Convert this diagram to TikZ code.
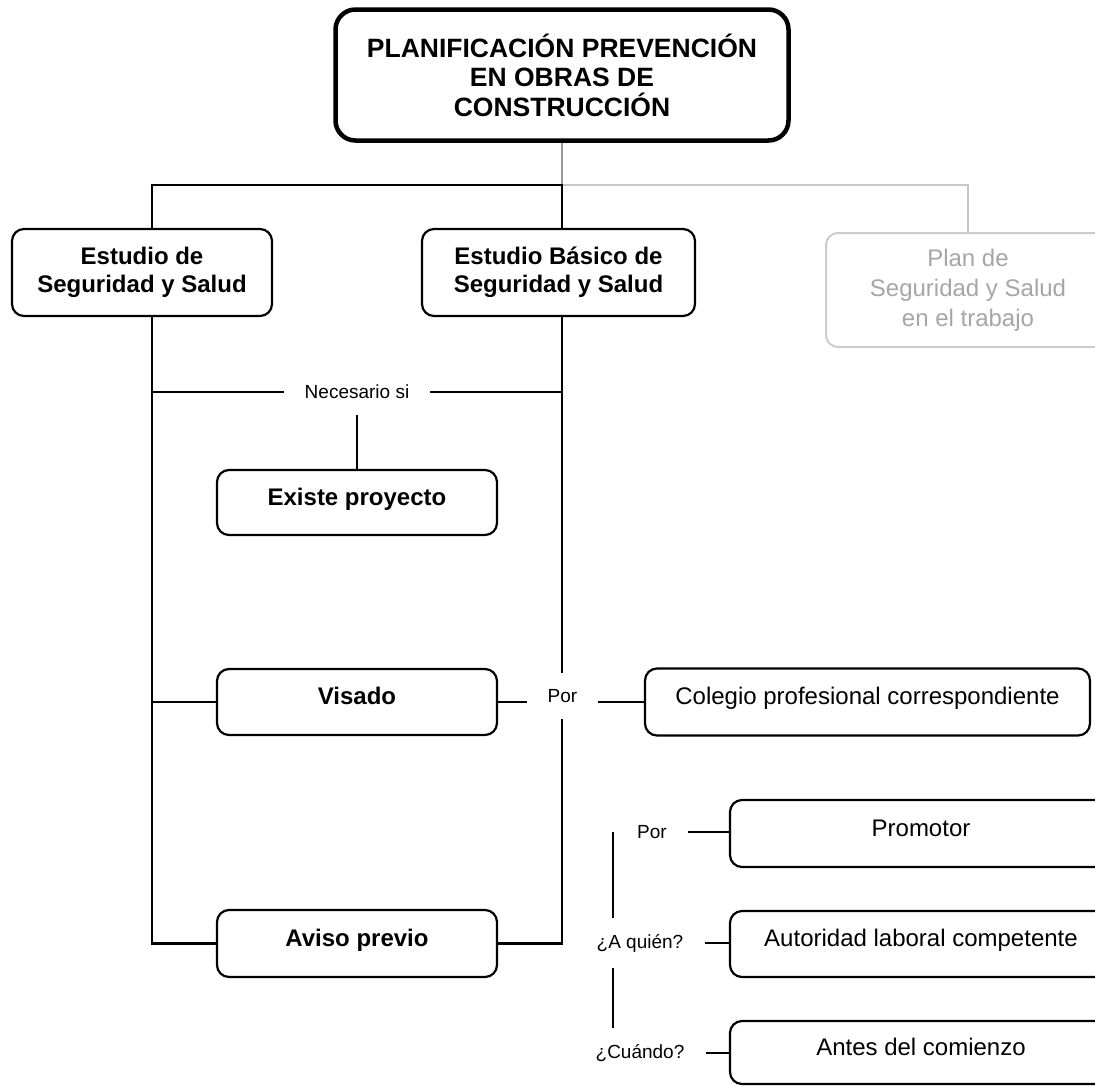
\documentclass[tikz,border=0pt]{standalone}
\usepackage{fontspec}
\setmainfont{Liberation Sans}
\pgfdeclarelayer{background}
\pgfsetlayers{background,main}
\begin{document}
\begin{tikzpicture}[x=1pt,y=-1pt,
  conn/.style={line width=2.2pt, draw=black},
  faint/.style={line width=2pt, draw=black!22},
  stepbox/.style={draw, line width=2.2pt, rounded corners=12pt, fill=white,
                  align=center, inner sep=0pt},
  oneline/.style={text height=17pt, text depth=12pt},
  boldtxt/.style={font=\fontsize{24}{28}\selectfont\bfseries},
  plaintxt/.style={font=\fontsize{24}{28}\selectfont},
  tag/.style={fill=white, font=\fontsize{19}{22}\selectfont,
              inner xsep=21pt, inner ysep=16pt},
]
\useasboundingbox (0,0) rectangle (1095,1085);
\clip (0,0) rectangle (1095,1085);

% junction points of the tree
\coordinate (jl) at (152,185);
\coordinate (jr) at (562,185);
\coordinate (vtop) at (613,832);
\coordinate (vbot) at (613,1033);

% title
\node[stepbox, line width=4.5pt, rounded corners=20pt, minimum width=453pt,
      minimum height=131pt, font=\fontsize{26.5}{29.5}\selectfont\bfseries]
  (title) at (562,75) {PLANIFICACIÓN PREVENCIÓN\\EN OBRAS DE\\CONSTRUCCIÓN};

% first level
\node[stepbox, boldtxt, minimum width=260pt, minimum height=87pt]
  (ess) at (142,272.5) {Estudio de\\Seguridad y Salud};
\node[stepbox, boldtxt, minimum width=273pt, minimum height=87pt]
  (ebss) at (558.5,272.5) {Estudio Básico de\\Seguridad y Salud};
\node[stepbox, font=\fontsize{24}{30}\selectfont, draw=black!20, text=black!35,
      line width=2pt, minimum width=284pt, minimum height=114pt]
  (plan) at (968,290) {Plan de\\Seguridad y Salud\\en el trabajo};

% requirements
\node[tag] (nec) at (357,392) {Necesario si};
\node[stepbox, boldtxt, oneline, minimum width=280pt, minimum height=65pt]
  (existe) at (357,502.5) {Existe proyecto};
\node[stepbox, boldtxt, oneline, minimum width=280pt, minimum height=66pt]
  (visado) at (357,702) {Visado};
\node[tag] (porA) at (562.5,696) {Por};
\node[stepbox, plaintxt, oneline, minimum width=445pt, minimum height=67pt]
  (colegio) at (867.5,702) {Colegio profesional correspondiente};
\node[stepbox, boldtxt, oneline, minimum width=280pt, minimum height=67pt]
  (aviso) at (357,943.5) {Aviso previo};

% details of the prior notice
\node[tag] (porB) at (652,832) {Por};
\node[tag] (aquien) at (640,943) {¿A quién?};
\node[tag] (cuando) at (640,1053) {¿Cuándo?};
\node[stepbox, plaintxt, oneline, minimum width=382pt, minimum height=67pt]
  (promotor) at (921,833.5) {Promotor};
\node[stepbox, plaintxt, oneline, minimum width=382pt, minimum height=66pt]
  (autoridad) at (921,944) {Autoridad laboral competente};
\node[stepbox, plaintxt, oneline, minimum width=382pt, minimum height=63pt]
  (antes) at (921,1052.5) {Antes del comienzo};

% connectors, kept behind the boxes and labels
\begin{pgfonlayer}{background}
  \draw[line width=2pt, draw=black!40] (title.south) -- (title.south |- jr);
  \draw[faint] (jr) -- (jr -| plan.north) -- (plan.north);
  \draw[conn] (aviso.west) -- (aviso.west -| jl) -- (jl) -- (jr)
              -- (jr |- aviso.east) -- (aviso.east);
  \draw[conn] (nec.center -| jl) -- (nec.center -| jr);
  \draw[conn] (nec.south) -- (existe.north);
  \draw[conn] (visado.west -| jl) -- (visado.west);
  \draw[conn] (visado.east) -- (colegio.west);
  \draw[conn] (vtop) -- (vbot);
  \draw[conn] (porB.east) -- (porB.east -| promotor.west);
  \draw[conn] (aquien.east) -- (aquien.east -| autoridad.west);
  \draw[conn] (cuando.east) -- (cuando.east -| antes.west);
\end{pgfonlayer}
\end{tikzpicture}
\end{document}
